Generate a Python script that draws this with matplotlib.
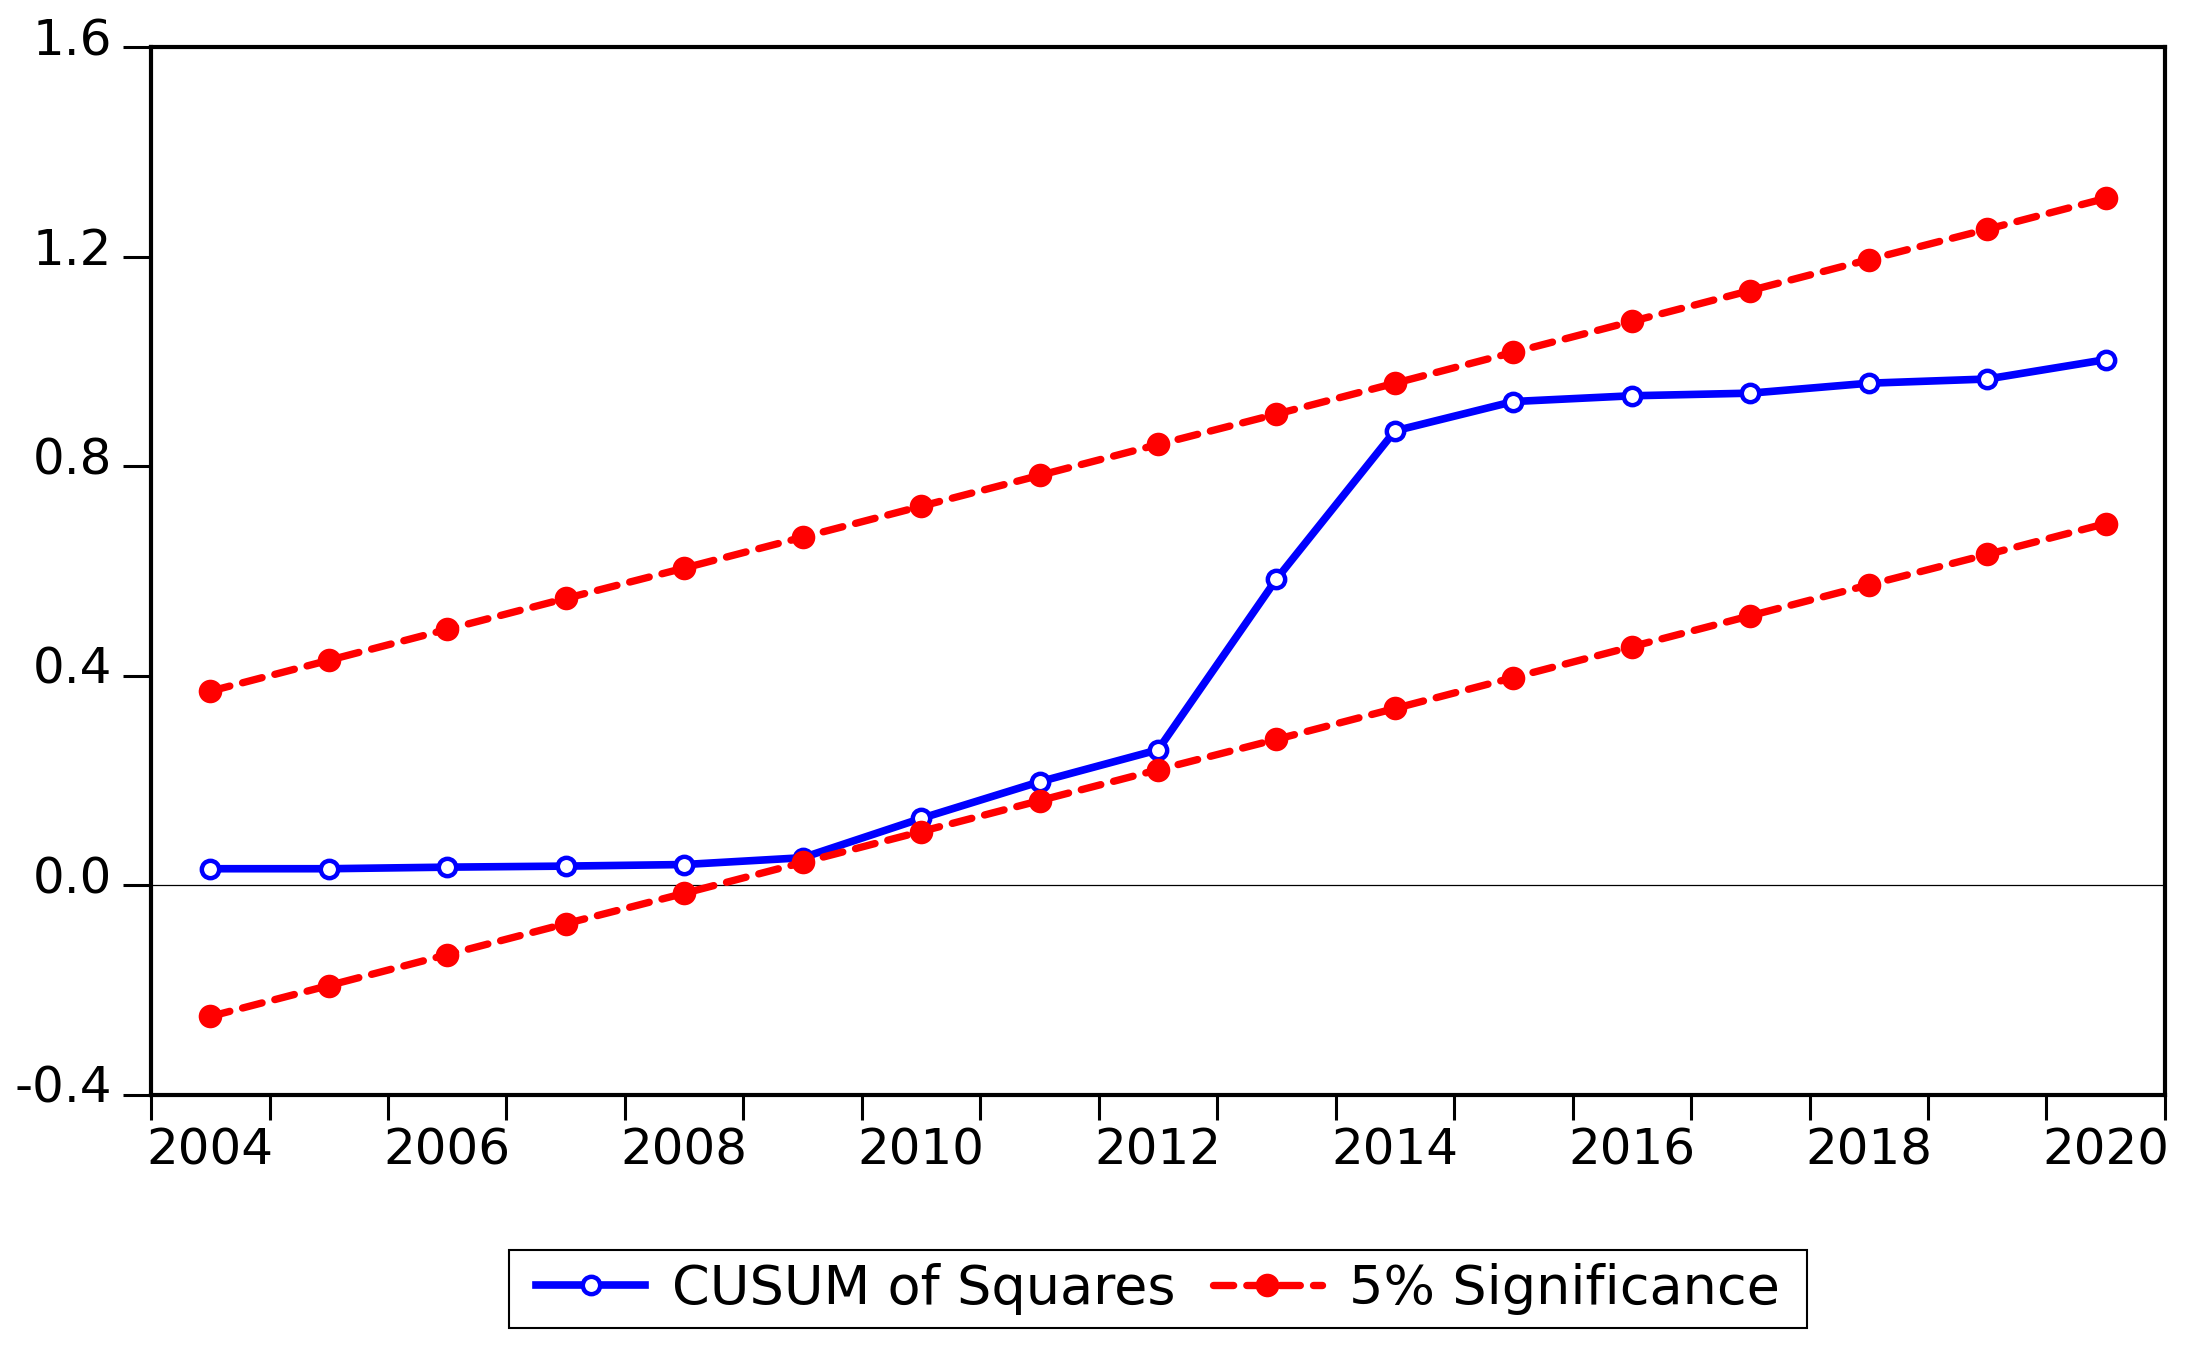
import matplotlib
matplotlib.use('Agg')
import matplotlib.pyplot as plt
import matplotlib.transforms as mtransforms
from matplotlib.ticker import FixedLocator, NullFormatter
from matplotlib.path import Path

# ---- data ----
years = [2004, 2005, 2006, 2007, 2008, 2009, 2010, 2011, 2012,
         2013, 2014, 2015, 2016, 2017, 2018, 2019, 2020]
cusum_sq = [0.032, 0.032, 0.035, 0.037, 0.040, 0.053, 0.128, 0.198, 0.259,
            0.585, 0.868, 0.924, 0.935, 0.940, 0.959, 0.967, 1.004]
upper_5 = [0.371, 0.430, 0.489, 0.548, 0.606, 0.665, 0.724, 0.783, 0.842,
           0.900, 0.959, 1.018, 1.077, 1.136, 1.195, 1.253, 1.312]
lower_5 = [-0.250, -0.191, -0.132, -0.073, -0.015, 0.044, 0.103, 0.162, 0.221,
           0.279, 0.338, 0.397, 0.456, 0.515, 0.574, 0.632, 0.691]
y_ticks = [-0.4, 0.0, 0.4, 0.8, 1.2, 1.6]
y_tick_labels = ["-0.4", "0.0", "0.4", "0.8", "1.2", "1.6"]
x_label_years = [2004, 2006, 2008, 2010, 2012, 2014, 2016, 2018, 2020]
series_names = ["CUSUM of Squares", "5% Significance"]

plt.rcParams['font.family'] = ['DejaVu Sans']
plt.rcParams['lines.scale_dashes'] = False

fig = plt.figure(figsize=(21.93, 13.49), dpi=100)
ax = fig.add_axes([0.0689, 0.1883, 0.9872 - 0.0689, 0.9648 - 0.1883])

blue = '#0000FF'
red = '#FF0000'

ax.axhline(0.0, color='black', lw=0.9, zorder=1)

l1, = ax.plot(years, cusum_sq, color=blue, lw=5.5, marker='o', ms=12.5,
              mfc='white', mec=blue, mew=3.2, zorder=3,
              solid_joinstyle='round', label=series_names[0])
dash = (0, (14.5, 9.5))
l2, = ax.plot(years, upper_5, color=red, lw=5.3, ls=dash, marker='o', ms=17,
              mfc=red, mec=red, mew=0, dash_capstyle='round', zorder=4,
              label=series_names[1])
ax.plot(years, lower_5, color=red, lw=5.3, ls=dash, marker='o', ms=17,
        mfc=red, mec=red, mew=0, dash_capstyle='round', zorder=4)

ax.set_xlim(2003.5, 2020.5)
ax.set_ylim(-0.4, 1.6)

# x axis: tick marks at year boundaries, labels centred on even years
ax.xaxis.set_major_locator(FixedLocator([y - 0.5 for y in years] + [years[-1] + 0.5]))
ax.xaxis.set_major_formatter(NullFormatter())
ax.xaxis.set_minor_locator(FixedLocator(x_label_years))
ax.set_xticklabels([str(y) for y in x_label_years], minor=True)
ax.tick_params(axis='x', which='major', direction='out', length=18, width=2.2,
               color='black')
ax.tick_params(axis='x', which='minor', length=0, pad=23, labelsize=36)

ax.set_yticks(y_ticks)
ax.set_yticklabels(y_tick_labels)
ax.tick_params(axis='y', direction='out', length=20, width=2.2, pad=8,
               labelsize=36)

off = mtransforms.ScaledTranslation(0, 11 / 100, fig.dpi_scale_trans)
for lab in ax.get_yticklabels():
    lab.set_transform(lab.get_transform() + off)

for sp in ax.spines.values():
    sp.set_linewidth(3)
    sp.set_color('black')

leg = fig.legend(handles=[l1, l2], labels=series_names, loc='center',
                 bbox_to_anchor=(0.528, 0.0445), ncol=2, fontsize=39,
                 frameon=True, fancybox=False, framealpha=1, edgecolor='black',
                 numpoints=1, handlelength=2.0, handletextpad=0.5,
                 columnspacing=0.7, borderpad=0.24)


def wide_box(x0, y0, width, height, mutation_size):
    dx = 0.26 * mutation_size
    x0 = x0 - dx
    width = width + 2 * dx
    return Path([(x0, y0), (x0 + width, y0), (x0 + width, y0 + height),
                 (x0, y0 + height), (x0, y0)], closed=True)


leg.get_frame().set_boxstyle(wide_box)
leg.get_frame().set_linewidth(1.5)

fig.savefig('out.png', dpi=100)
